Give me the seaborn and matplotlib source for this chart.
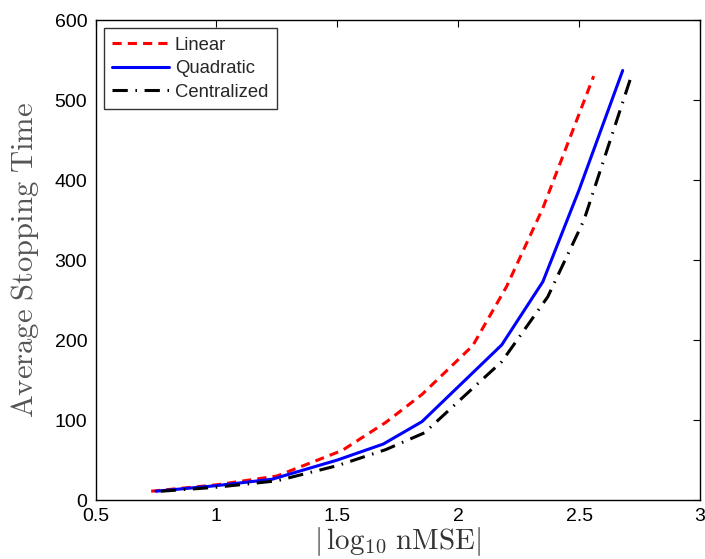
import numpy as np
import pandas as pd
import matplotlib
matplotlib.use("Agg")
import matplotlib.pyplot as plt
import seaborn as sns

lin_x = [0.73, 1.00, 1.25, 1.52, 1.70, 1.85, 2.06, 2.20, 2.35, 2.56]
lin_y = [11, 19, 30, 62, 97, 132, 193, 267, 365, 530]
quad_x = [0.75, 1.00, 1.23, 1.50, 1.69, 1.85, 2.18, 2.35, 2.50, 2.68]
quad_y = [11, 18, 26, 50, 70, 98, 194, 273, 388, 537]
cen_x = [0.77, 1.00, 1.25, 1.50, 1.70, 1.86, 2.05, 2.18, 2.37, 2.52, 2.72]
cen_y = [11, 16, 24, 43, 63, 84, 137, 173, 254, 350, 534]

series = ["Linear", "Quadratic", "Centralized"]
xticks = [0.5, 1, 1.5, 2, 2.5, 3]
yticks = [0, 100, 200, 300, 400, 500, 600]

sns.set_style("white")
plt.rcParams['font.family'] = ['Liberation Sans', 'DejaVu Sans']
plt.rcParams['mathtext.fontset'] = 'cm'

df = pd.concat([
    pd.DataFrame({"x": lin_x, "y": lin_y, "s": series[0]}),
    pd.DataFrame({"x": quad_x, "y": quad_y, "s": series[1]}),
    pd.DataFrame({"x": cen_x, "y": cen_y, "s": series[2]}),
])

fig = plt.figure(figsize=(7.05, 5.59), dpi=100)
ax = fig.add_axes([0.1355, 0.1055, 0.8575, 0.8585])

colors = {"Linear": "#ff0000", "Quadratic": "#0000ff", "Centralized": "#000000"}
styles = {"Linear": (0, (3, 2)), "Quadratic": "-", "Centralized": (0, (5, 2.5, 0.5, 2.5))}
for s in series:
    sub = df[df.s == s]
    sns.lineplot(data=sub, x="x", y="y", ax=ax, color=colors[s], lw=2.2,
                 linestyle=styles[s], label=s, sort=False, estimator=None)

ax.set_xlim(0.5, 3)
ax.set_ylim(0, 600)
ax.set_xticks(xticks)
ax.set_xticklabels([f"{t:g}" for t in xticks])
ax.set_yticks(yticks)
ax.tick_params(direction='in', length=5, width=0.8, top=True, right=True,
               labelsize=14, colors='black')
ax.tick_params(axis='x', pad=6)
ax.tick_params(axis='y', pad=6)
for sp in ax.spines.values():
    sp.set_visible(True)
    sp.set_color('black')
    sp.set_linewidth(1.0)

ax.set_xlabel(r'$|\,\log_{10}\,\mathrm{nMSE}|$', fontsize=21, color='#333333', labelpad=0)
ax.set_ylabel(r'$\mathrm{Average\ Stopping\ Time}$', fontsize=22, color='#555555', labelpad=10)

leg = ax.legend(loc='upper left', fontsize=13.3, frameon=True, fancybox=False,
                edgecolor='black', handlelength=3.1, borderaxespad=0.45,
                labelspacing=0.35, handletextpad=0.3, borderpad=0.45)
leg.get_frame().set_linewidth(1.0)

fig.savefig("out.png", dpi=100)
